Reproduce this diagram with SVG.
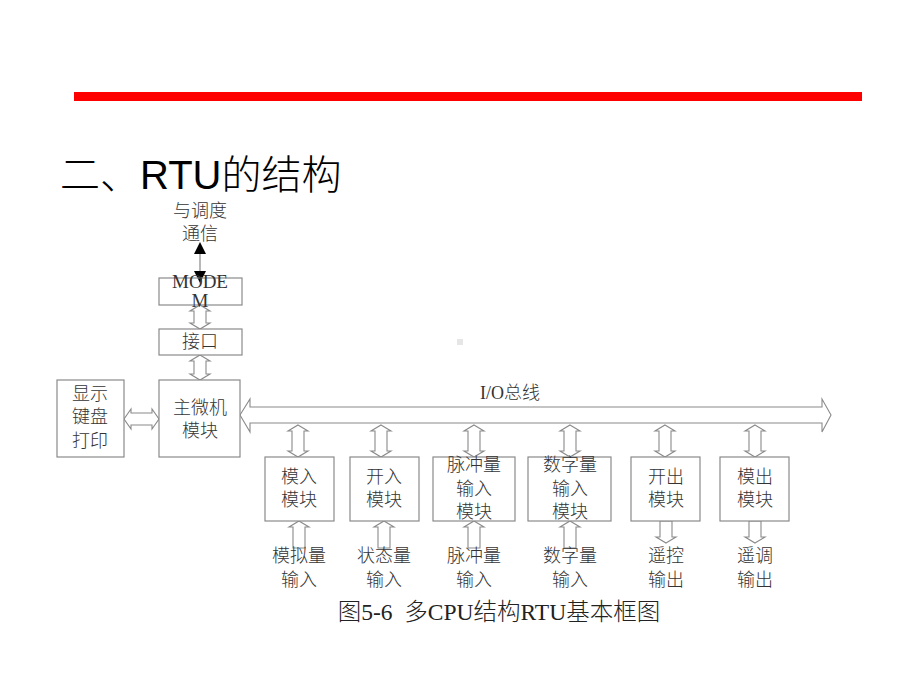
<svg xmlns="http://www.w3.org/2000/svg" width="920" height="690" viewBox="0 0 920 690">
<style>
.box{fill:#fff;stroke:#8a8a8a;stroke-width:1.2}
.arr{fill:#fff;stroke:#8a8a8a;stroke-width:1.1;stroke-linejoin:miter}
.t{font-family:"Liberation Serif","Noto Sans CJK SC",serif;font-size:18px;font-weight:300;fill:#333;text-anchor:middle}
.title{font-family:"Liberation Sans","Noto Sans CJK SC",sans-serif;font-size:40px;font-weight:300;fill:#000}
.cap{font-family:"Liberation Serif","Noto Sans CJK SC",serif;font-size:23.5px;font-weight:300;fill:#222;text-anchor:middle;white-space:pre}
</style>
<rect x="0" y="0" width="920" height="690" fill="#fff"/>
<rect x="74" y="92" width="788" height="9" fill="#ff0000"/>
<text class="title" x="60" y="189">二、RTU的结构</text>
<rect x="457" y="339" width="6" height="6" fill="#e6e6e6"/>

<g id="connectors">
<line x1="200" y1="252" x2="200" y2="272" stroke="#888" stroke-width="1.2"/>
<path d="M200,242 L206,254 L194,254 Z" fill="#000"/>
<path d="M200,283 L206,271 L194,271 Z" fill="#000"/>
<path class="arr" d="M200,305 L210,311 L206,311 L206,323 L210,323 L200,329 L190,323 L194,323 L194,311 L190,311 Z"/>
<path class="arr" d="M200,355 L210,361 L206,361 L206,374 L210,374 L200,380 L190,374 L194,374 L194,361 L190,361 Z"/>
<path class="arr" d="M124,419 L131,409 L131,413 L152,413 L152,409 L159,419 L152,429 L152,425 L131,425 L131,429 Z"/>
<path class="arr" d="M240,415 L250,399 L250,407 L822,407 L822,399 L831,415 L822,432 L822,423 L250,423 L250,432 Z"/>
<path class="arr" d="M298,425 L308,431 L304,431 L304,451 L308,451 L298,457 L288,451 L292,451 L292,431 L288,431 Z"/>
<path class="arr" d="M381,425 L391,431 L387,431 L387,451 L391,451 L381,457 L371,451 L375,451 L375,431 L371,431 Z"/>
<path class="arr" d="M474,425 L484,431 L480,431 L480,451 L484,451 L474,457 L464,451 L468,451 L468,431 L464,431 Z"/>
<path class="arr" d="M570,425 L580,431 L576,431 L576,451 L580,451 L570,457 L560,451 L564,451 L564,431 L560,431 Z"/>
<path class="arr" d="M665,425 L675,431 L671,431 L671,451 L675,451 L665,457 L655,451 L659,451 L659,431 L655,431 Z"/>
<path class="arr" d="M755,425 L765,431 L761,431 L761,451 L765,451 L755,457 L745,451 L749,451 L749,431 L745,431 Z"/>
<path class="arr" d="M299,521 L309,527 L305,527 L305,548 L293,548 L293,527 L289,527 Z"/>
<path class="arr" d="M384,521 L394,527 L390,527 L390,548 L378,548 L378,527 L374,527 Z"/>
<path class="arr" d="M474,521 L484,527 L480,527 L480,548 L468,548 L468,527 L464,527 Z"/>
<path class="arr" d="M570,521 L580,527 L576,527 L576,548 L564,548 L564,527 L560,527 Z"/>
<path class="arr" d="M666,543 L676,537 L672,537 L672,521 L660,521 L660,537 L656,537 Z"/>
<path class="arr" d="M755,543 L765,537 L761,537 L761,521 L749,521 L749,537 L745,537 Z"/>
</g>

<text class="t" x="200" y="217">与调度</text>
<text class="t" x="200" y="240">通信</text>

<g id="modem">
<rect class="box" x="159" y="278" width="83" height="27" fill-opacity="0"/>
<text class="t" x="200" y="288" style="font-size:19px">MODE</text>
<text class="t" x="200" y="307" style="font-size:19px">M</text>
</g>
<g id="jiekou">
<rect class="box" x="159" y="329" width="83" height="26"/>
<text class="t" x="200" y="348">接口</text>
</g>
<g id="display">
<rect class="box" x="57" y="380" width="67" height="77"/>
<text class="t" x="90" y="400">显示</text>
<text class="t" x="90" y="423">键盘</text>
<text class="t" x="90" y="447">打印</text>
</g>
<g id="main">
<rect class="box" x="159" y="380" width="81" height="77"/>
<text class="t" x="200" y="414">主微机</text>
<text class="t" x="200" y="437">模块</text>
</g>
<text class="t" x="510" y="399">I/O总线</text>

<g id="m1">
<rect class="box" x="265" y="457" width="69" height="64"/>
<text class="t" x="299" y="483">模入</text>
<text class="t" x="299" y="506">模块</text>
</g>
<g id="m2">
<rect class="box" x="350" y="457" width="69" height="64"/>
<text class="t" x="384" y="483">开入</text>
<text class="t" x="384" y="506">模块</text>
</g>
<g id="m3">
<rect class="box" x="433" y="457" width="82" height="64"/>
<text class="t" x="474" y="471">脉冲量</text>
<text class="t" x="474" y="495">输入</text>
<text class="t" x="474" y="518">模块</text>
</g>
<g id="m4">
<rect class="box" x="528" y="457" width="83" height="64"/>
<text class="t" x="570" y="471">数字量</text>
<text class="t" x="570" y="495">输入</text>
<text class="t" x="570" y="518">模块</text>
</g>
<g id="m5">
<rect class="box" x="631" y="457" width="69" height="64"/>
<text class="t" x="666" y="483">开出</text>
<text class="t" x="666" y="506">模块</text>
</g>
<g id="m6">
<rect class="box" x="720" y="457" width="69" height="64"/>
<text class="t" x="755" y="483">模出</text>
<text class="t" x="755" y="506">模块</text>
</g>

<g id="labels">
<text class="t" x="299" y="562">模拟量</text>
<text class="t" x="299" y="586">输入</text>
<text class="t" x="384" y="562">状态量</text>
<text class="t" x="384" y="586">输入</text>
<text class="t" x="474" y="562">脉冲量</text>
<text class="t" x="474" y="586">输入</text>
<text class="t" x="570" y="562">数字量</text>
<text class="t" x="570" y="586">输入</text>
<text class="t" x="666" y="562">遥控</text>
<text class="t" x="666" y="586">输出</text>
<text class="t" x="755" y="562">遥调</text>
<text class="t" x="755" y="586">输出</text>
</g>
<text class="cap" x="499" y="620">图5-6  多CPU结构RTU基本框图</text>
</svg>
